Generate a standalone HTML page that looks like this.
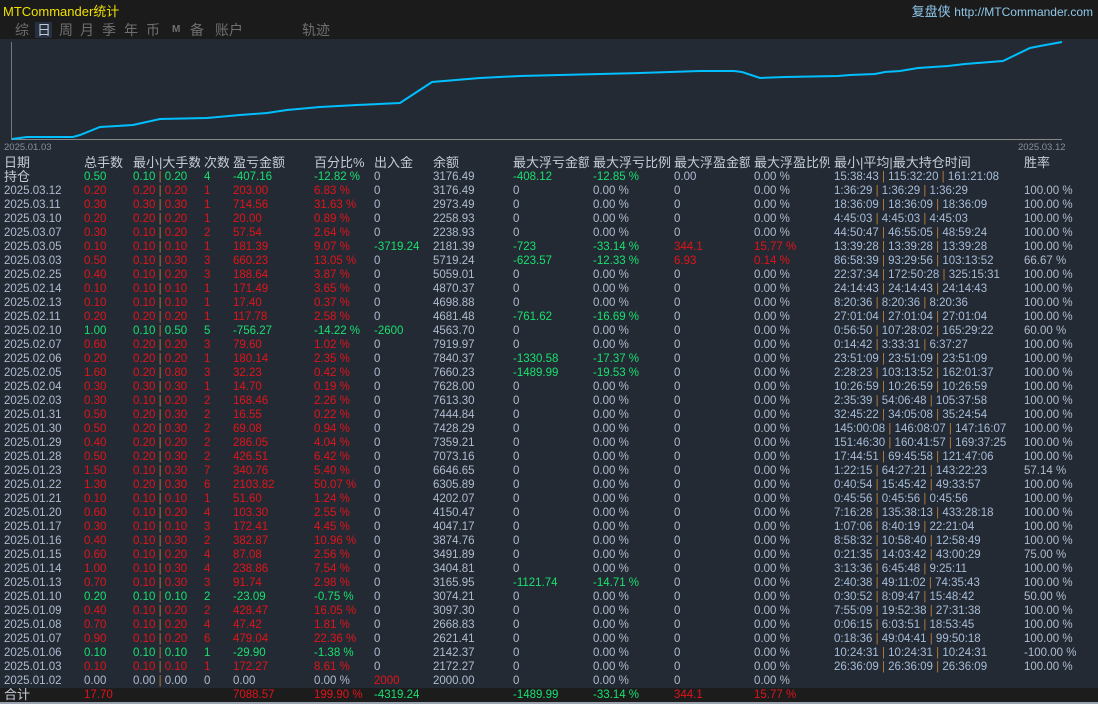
<!DOCTYPE html>
<html><head><meta charset="utf-8">
<style>
body{margin:0;width:1098px;height:704px;background:#242a33;overflow:hidden;font-family:"Liberation Sans","Noto Sans CJK SC",sans-serif;position:relative}
#top{position:absolute;left:0;top:0;width:1098px;height:39px;background:#1b1b1b}
.t1{position:absolute;left:3px;top:1px;font-size:13px;color:#f0e000}
.t2{position:absolute;right:5px;top:1px;font-size:13px;color:#8fc8ea}
.tb{position:absolute;top:21px;font-size:14px;color:#6f6f6f;line-height:18px}
.tabsel{position:absolute;left:35px;top:22px;width:17px;height:16px;background:#263040}
table{position:absolute;left:0;top:156px;width:1094px;border-collapse:collapse;table-layout:fixed;font-size:11.5px;color:#aebcd0}
td{padding:0 0 0 4px;height:14px;line-height:14px;white-space:nowrap;overflow:hidden}
tr.h td{font-size:13px;color:#c3ccd8}
tr.R td:nth-child(n+2):nth-child(-n+6){color:#e0141a}
tr.G td:nth-child(n+2):nth-child(-n+6){color:#18e070}
.r{color:#e0141a!important}.g{color:#18e070!important}
i{font-style:normal;color:#b87a3a}
td.tm{color:#a6bcd8}
#tot{position:absolute;left:0;top:688px;width:1098px;height:14px;background:#1c1c1c}
#bl{position:absolute;left:0;top:702px;width:1098px;height:2px;background:#9aa4b0}
</style></head><body>
<div id="top"></div>
<div class="t1">MTCommander统计</div>
<div class="t2">复盘侠 <span style="font-size:12px">http://MTCommander.com</span></div>
<div class="tabsel"></div>
<span class="tb" style="left:15px">综</span><span class="tb" style="left:37px;color:#c0c8d4">日</span><span class="tb" style="left:59px">周</span><span class="tb" style="left:80px">月</span><span class="tb" style="left:102px">季</span><span class="tb" style="left:124px">年</span><span class="tb" style="left:146px">币</span><span class="tb" style="left:172px;font-size:10px;font-weight:bold">M</span><span class="tb" style="left:190px">备</span><span class="tb" style="left:215px">账户</span><span class="tb" style="left:302px">轨迹</span>
<svg style="position:absolute;left:0;top:0" width="1098" height="156">
<line x1="11.5" y1="42" x2="11.5" y2="139" stroke="#777" stroke-width="1"/>
<line x1="11" y1="139.5" x2="1062" y2="139.5" stroke="#888" stroke-width="1"/>
<polyline fill="none" stroke="#00bfff" stroke-width="2" points="12,139 27,137 37,137 73,137 80,135 100,127 117,126 133,125 160,119 207,118 240,115 267,113 287,110 320,107 357,105 400,103 432,82 480,78 520,76 560,75 600,74 640,73 700,71 734,71 742,72 760,78 785,77 838,76 850,75 875,74 885,72 900,71 918,68 948,66 965,64 1003,61 1030,48 1040,46 1062,42"/>
<text x="4" y="150" font-size="9.5" fill="#8a8f98" font-family="Liberation Sans">2025.01.03</text>
<text x="1018" y="150" font-size="9.5" fill="#8a8f98" font-family="Liberation Sans">2025.03.12</text>
</svg>
<div id="tot"></div><div id="bl"></div>
<table>
<colgroup><col style="width:80px"><col style="width:49px"><col style="width:71px"><col style="width:29px"><col style="width:81px"><col style="width:60px"><col style="width:59px"><col style="width:80px"><col style="width:80px"><col style="width:81px"><col style="width:80px"><col style="width:80px"><col style="width:190px"><col style="width:74px"></colgroup>
<tr class="h"><td>日期</td><td>总手数</td><td>最小|大手数</td><td>次数</td><td>盈亏金额</td><td>百分比%</td><td>出入金</td><td>余额</td><td>最大浮亏金额</td><td>最大浮亏比例</td><td>最大浮盈金额</td><td>最大浮盈比例</td><td>最小|平均|最大持仓时间</td><td>胜率</td></tr>
<tr class="G"><td style="font-size:13px;color:#c3ccd8">持仓</td><td>0.50</td><td>0.10 <i>|</i> 0.20</td><td>4</td><td>-407.16</td><td>-12.82 %</td><td>0</td><td>3176.49</td><td class="g">-408.12</td><td class="g">-12.85 %</td><td>0.00</td><td>0.00 %</td><td class="tm">15:38:43 <i>|</i> 115:32:20 <i>|</i> 161:21:08</td><td></td></tr>
<tr class="R"><td>2025.03.12</td><td>0.20</td><td>0.20 <i>|</i> 0.20</td><td>1</td><td>203.00</td><td>6.83 %</td><td>0</td><td>3176.49</td><td>0</td><td>0.00 %</td><td>0</td><td>0.00 %</td><td class="tm">1:36:29 <i>|</i> 1:36:29 <i>|</i> 1:36:29</td><td>100.00 %</td></tr>
<tr class="R"><td>2025.03.11</td><td>0.30</td><td>0.30 <i>|</i> 0.30</td><td>1</td><td>714.56</td><td>31.63 %</td><td>0</td><td>2973.49</td><td>0</td><td>0.00 %</td><td>0</td><td>0.00 %</td><td class="tm">18:36:09 <i>|</i> 18:36:09 <i>|</i> 18:36:09</td><td>100.00 %</td></tr>
<tr class="R"><td>2025.03.10</td><td>0.20</td><td>0.20 <i>|</i> 0.20</td><td>1</td><td>20.00</td><td>0.89 %</td><td>0</td><td>2258.93</td><td>0</td><td>0.00 %</td><td>0</td><td>0.00 %</td><td class="tm">4:45:03 <i>|</i> 4:45:03 <i>|</i> 4:45:03</td><td>100.00 %</td></tr>
<tr class="R"><td>2025.03.07</td><td>0.30</td><td>0.10 <i>|</i> 0.20</td><td>2</td><td>57.54</td><td>2.64 %</td><td>0</td><td>2238.93</td><td>0</td><td>0.00 %</td><td>0</td><td>0.00 %</td><td class="tm">44:50:47 <i>|</i> 46:55:05 <i>|</i> 48:59:24</td><td>100.00 %</td></tr>
<tr class="R"><td>2025.03.05</td><td>0.10</td><td>0.10 <i>|</i> 0.10</td><td>1</td><td>181.39</td><td>9.07 %</td><td class="g">-3719.24</td><td>2181.39</td><td class="g">-723</td><td class="g">-33.14 %</td><td class="r">344.1</td><td class="r">15.77 %</td><td class="tm">13:39:28 <i>|</i> 13:39:28 <i>|</i> 13:39:28</td><td>100.00 %</td></tr>
<tr class="R"><td>2025.03.03</td><td>0.50</td><td>0.10 <i>|</i> 0.30</td><td>3</td><td>660.23</td><td>13.05 %</td><td>0</td><td>5719.24</td><td class="g">-623.57</td><td class="g">-12.33 %</td><td class="r">6.93</td><td class="r">0.14 %</td><td class="tm">86:58:39 <i>|</i> 93:29:56 <i>|</i> 103:13:52</td><td>66.67 %</td></tr>
<tr class="R"><td>2025.02.25</td><td>0.40</td><td>0.10 <i>|</i> 0.20</td><td>3</td><td>188.64</td><td>3.87 %</td><td>0</td><td>5059.01</td><td>0</td><td>0.00 %</td><td>0</td><td>0.00 %</td><td class="tm">22:37:34 <i>|</i> 172:50:28 <i>|</i> 325:15:31</td><td>100.00 %</td></tr>
<tr class="R"><td>2025.02.14</td><td>0.10</td><td>0.10 <i>|</i> 0.10</td><td>1</td><td>171.49</td><td>3.65 %</td><td>0</td><td>4870.37</td><td>0</td><td>0.00 %</td><td>0</td><td>0.00 %</td><td class="tm">24:14:43 <i>|</i> 24:14:43 <i>|</i> 24:14:43</td><td>100.00 %</td></tr>
<tr class="R"><td>2025.02.13</td><td>0.10</td><td>0.10 <i>|</i> 0.10</td><td>1</td><td>17.40</td><td>0.37 %</td><td>0</td><td>4698.88</td><td>0</td><td>0.00 %</td><td>0</td><td>0.00 %</td><td class="tm">8:20:36 <i>|</i> 8:20:36 <i>|</i> 8:20:36</td><td>100.00 %</td></tr>
<tr class="R"><td>2025.02.11</td><td>0.20</td><td>0.20 <i>|</i> 0.20</td><td>1</td><td>117.78</td><td>2.58 %</td><td>0</td><td>4681.48</td><td class="g">-761.62</td><td class="g">-16.69 %</td><td>0</td><td>0.00 %</td><td class="tm">27:01:04 <i>|</i> 27:01:04 <i>|</i> 27:01:04</td><td>100.00 %</td></tr>
<tr class="G"><td>2025.02.10</td><td>1.00</td><td>0.10 <i>|</i> 0.50</td><td>5</td><td>-756.27</td><td>-14.22 %</td><td class="g">-2600</td><td>4563.70</td><td>0</td><td>0.00 %</td><td>0</td><td>0.00 %</td><td class="tm">0:56:50 <i>|</i> 107:28:02 <i>|</i> 165:29:22</td><td>60.00 %</td></tr>
<tr class="R"><td>2025.02.07</td><td>0.60</td><td>0.20 <i>|</i> 0.20</td><td>3</td><td>79.60</td><td>1.02 %</td><td>0</td><td>7919.97</td><td>0</td><td>0.00 %</td><td>0</td><td>0.00 %</td><td class="tm">0:14:42 <i>|</i> 3:33:31 <i>|</i> 6:37:27</td><td>100.00 %</td></tr>
<tr class="R"><td>2025.02.06</td><td>0.20</td><td>0.20 <i>|</i> 0.20</td><td>1</td><td>180.14</td><td>2.35 %</td><td>0</td><td>7840.37</td><td class="g">-1330.58</td><td class="g">-17.37 %</td><td>0</td><td>0.00 %</td><td class="tm">23:51:09 <i>|</i> 23:51:09 <i>|</i> 23:51:09</td><td>100.00 %</td></tr>
<tr class="R"><td>2025.02.05</td><td>1.60</td><td>0.20 <i>|</i> 0.80</td><td>3</td><td>32.23</td><td>0.42 %</td><td>0</td><td>7660.23</td><td class="g">-1489.99</td><td class="g">-19.53 %</td><td>0</td><td>0.00 %</td><td class="tm">2:28:23 <i>|</i> 103:13:52 <i>|</i> 162:01:37</td><td>100.00 %</td></tr>
<tr class="R"><td>2025.02.04</td><td>0.30</td><td>0.30 <i>|</i> 0.30</td><td>1</td><td>14.70</td><td>0.19 %</td><td>0</td><td>7628.00</td><td>0</td><td>0.00 %</td><td>0</td><td>0.00 %</td><td class="tm">10:26:59 <i>|</i> 10:26:59 <i>|</i> 10:26:59</td><td>100.00 %</td></tr>
<tr class="R"><td>2025.02.03</td><td>0.30</td><td>0.10 <i>|</i> 0.20</td><td>2</td><td>168.46</td><td>2.26 %</td><td>0</td><td>7613.30</td><td>0</td><td>0.00 %</td><td>0</td><td>0.00 %</td><td class="tm">2:35:39 <i>|</i> 54:06:48 <i>|</i> 105:37:58</td><td>100.00 %</td></tr>
<tr class="R"><td>2025.01.31</td><td>0.50</td><td>0.20 <i>|</i> 0.30</td><td>2</td><td>16.55</td><td>0.22 %</td><td>0</td><td>7444.84</td><td>0</td><td>0.00 %</td><td>0</td><td>0.00 %</td><td class="tm">32:45:22 <i>|</i> 34:05:08 <i>|</i> 35:24:54</td><td>100.00 %</td></tr>
<tr class="R"><td>2025.01.30</td><td>0.50</td><td>0.20 <i>|</i> 0.30</td><td>2</td><td>69.08</td><td>0.94 %</td><td>0</td><td>7428.29</td><td>0</td><td>0.00 %</td><td>0</td><td>0.00 %</td><td class="tm">145:00:08 <i>|</i> 146:08:07 <i>|</i> 147:16:07</td><td>100.00 %</td></tr>
<tr class="R"><td>2025.01.29</td><td>0.40</td><td>0.20 <i>|</i> 0.20</td><td>2</td><td>286.05</td><td>4.04 %</td><td>0</td><td>7359.21</td><td>0</td><td>0.00 %</td><td>0</td><td>0.00 %</td><td class="tm">151:46:30 <i>|</i> 160:41:57 <i>|</i> 169:37:25</td><td>100.00 %</td></tr>
<tr class="R"><td>2025.01.28</td><td>0.50</td><td>0.20 <i>|</i> 0.30</td><td>2</td><td>426.51</td><td>6.42 %</td><td>0</td><td>7073.16</td><td>0</td><td>0.00 %</td><td>0</td><td>0.00 %</td><td class="tm">17:44:51 <i>|</i> 69:45:58 <i>|</i> 121:47:06</td><td>100.00 %</td></tr>
<tr class="R"><td>2025.01.23</td><td>1.50</td><td>0.10 <i>|</i> 0.30</td><td>7</td><td>340.76</td><td>5.40 %</td><td>0</td><td>6646.65</td><td>0</td><td>0.00 %</td><td>0</td><td>0.00 %</td><td class="tm">1:22:15 <i>|</i> 64:27:21 <i>|</i> 143:22:23</td><td>57.14 %</td></tr>
<tr class="R"><td>2025.01.22</td><td>1.30</td><td>0.20 <i>|</i> 0.30</td><td>6</td><td>2103.82</td><td>50.07 %</td><td>0</td><td>6305.89</td><td>0</td><td>0.00 %</td><td>0</td><td>0.00 %</td><td class="tm">0:40:54 <i>|</i> 15:45:42 <i>|</i> 49:33:57</td><td>100.00 %</td></tr>
<tr class="R"><td>2025.01.21</td><td>0.10</td><td>0.10 <i>|</i> 0.10</td><td>1</td><td>51.60</td><td>1.24 %</td><td>0</td><td>4202.07</td><td>0</td><td>0.00 %</td><td>0</td><td>0.00 %</td><td class="tm">0:45:56 <i>|</i> 0:45:56 <i>|</i> 0:45:56</td><td>100.00 %</td></tr>
<tr class="R"><td>2025.01.20</td><td>0.60</td><td>0.10 <i>|</i> 0.20</td><td>4</td><td>103.30</td><td>2.55 %</td><td>0</td><td>4150.47</td><td>0</td><td>0.00 %</td><td>0</td><td>0.00 %</td><td class="tm">7:16:28 <i>|</i> 135:38:13 <i>|</i> 433:28:18</td><td>100.00 %</td></tr>
<tr class="R"><td>2025.01.17</td><td>0.30</td><td>0.10 <i>|</i> 0.10</td><td>3</td><td>172.41</td><td>4.45 %</td><td>0</td><td>4047.17</td><td>0</td><td>0.00 %</td><td>0</td><td>0.00 %</td><td class="tm">1:07:06 <i>|</i> 8:40:19 <i>|</i> 22:21:04</td><td>100.00 %</td></tr>
<tr class="R"><td>2025.01.16</td><td>0.40</td><td>0.10 <i>|</i> 0.30</td><td>2</td><td>382.87</td><td>10.96 %</td><td>0</td><td>3874.76</td><td>0</td><td>0.00 %</td><td>0</td><td>0.00 %</td><td class="tm">8:58:32 <i>|</i> 10:58:40 <i>|</i> 12:58:49</td><td>100.00 %</td></tr>
<tr class="R"><td>2025.01.15</td><td>0.60</td><td>0.10 <i>|</i> 0.20</td><td>4</td><td>87.08</td><td>2.56 %</td><td>0</td><td>3491.89</td><td>0</td><td>0.00 %</td><td>0</td><td>0.00 %</td><td class="tm">0:21:35 <i>|</i> 14:03:42 <i>|</i> 43:00:29</td><td>75.00 %</td></tr>
<tr class="R"><td>2025.01.14</td><td>1.00</td><td>0.10 <i>|</i> 0.30</td><td>4</td><td>238.86</td><td>7.54 %</td><td>0</td><td>3404.81</td><td>0</td><td>0.00 %</td><td>0</td><td>0.00 %</td><td class="tm">3:13:36 <i>|</i> 6:45:48 <i>|</i> 9:25:11</td><td>100.00 %</td></tr>
<tr class="R"><td>2025.01.13</td><td>0.70</td><td>0.10 <i>|</i> 0.30</td><td>3</td><td>91.74</td><td>2.98 %</td><td>0</td><td>3165.95</td><td class="g">-1121.74</td><td class="g">-14.71 %</td><td>0</td><td>0.00 %</td><td class="tm">2:40:38 <i>|</i> 49:11:02 <i>|</i> 74:35:43</td><td>100.00 %</td></tr>
<tr class="G"><td>2025.01.10</td><td>0.20</td><td>0.10 <i>|</i> 0.10</td><td>2</td><td>-23.09</td><td>-0.75 %</td><td>0</td><td>3074.21</td><td>0</td><td>0.00 %</td><td>0</td><td>0.00 %</td><td class="tm">0:30:52 <i>|</i> 8:09:47 <i>|</i> 15:48:42</td><td>50.00 %</td></tr>
<tr class="R"><td>2025.01.09</td><td>0.40</td><td>0.10 <i>|</i> 0.20</td><td>2</td><td>428.47</td><td>16.05 %</td><td>0</td><td>3097.30</td><td>0</td><td>0.00 %</td><td>0</td><td>0.00 %</td><td class="tm">7:55:09 <i>|</i> 19:52:38 <i>|</i> 27:31:38</td><td>100.00 %</td></tr>
<tr class="R"><td>2025.01.08</td><td>0.70</td><td>0.10 <i>|</i> 0.20</td><td>4</td><td>47.42</td><td>1.81 %</td><td>0</td><td>2668.83</td><td>0</td><td>0.00 %</td><td>0</td><td>0.00 %</td><td class="tm">0:06:15 <i>|</i> 6:03:51 <i>|</i> 18:53:45</td><td>100.00 %</td></tr>
<tr class="R"><td>2025.01.07</td><td>0.90</td><td>0.10 <i>|</i> 0.20</td><td>6</td><td>479.04</td><td>22.36 %</td><td>0</td><td>2621.41</td><td>0</td><td>0.00 %</td><td>0</td><td>0.00 %</td><td class="tm">0:18:36 <i>|</i> 49:04:41 <i>|</i> 99:50:18</td><td>100.00 %</td></tr>
<tr class="G"><td>2025.01.06</td><td>0.10</td><td>0.10 <i>|</i> 0.10</td><td>1</td><td>-29.90</td><td>-1.38 %</td><td>0</td><td>2142.37</td><td>0</td><td>0.00 %</td><td>0</td><td>0.00 %</td><td class="tm">10:24:31 <i>|</i> 10:24:31 <i>|</i> 10:24:31</td><td>-100.00 %</td></tr>
<tr class="R"><td>2025.01.03</td><td>0.10</td><td>0.10 <i>|</i> 0.10</td><td>1</td><td>172.27</td><td>8.61 %</td><td>0</td><td>2172.27</td><td>0</td><td>0.00 %</td><td>0</td><td>0.00 %</td><td class="tm">26:36:09 <i>|</i> 26:36:09 <i>|</i> 26:36:09</td><td>100.00 %</td></tr>
<tr><td>2025.01.02</td><td>0.00</td><td>0.00 <i>|</i> 0.00</td><td>0</td><td>0.00</td><td>0.00 %</td><td class="r">2000</td><td>2000.00</td><td>0</td><td>0.00 %</td><td>0</td><td>0.00 %</td><td></td><td></td></tr>
<tr><td style="font-size:13px;color:#c3ccd8">合计</td><td class="r">17.70</td><td></td><td></td><td class="r">7088.57</td><td class="r">199.90 %</td><td class="g">-4319.24</td><td></td><td class="g">-1489.99</td><td class="g">-33.14 %</td><td class="r">344.1</td><td class="r">15.77 %</td><td></td><td></td></tr>
</table>
</body></html>
